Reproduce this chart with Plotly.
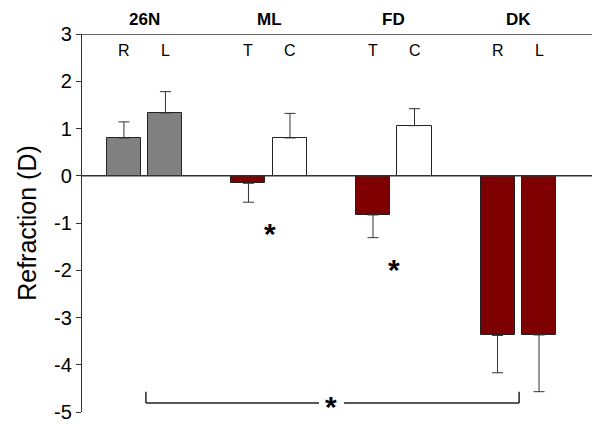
import plotly.graph_objects as go

groups = ["26N", "ML", "FD", "DK"]
sub_labels = ["R", "L", "T", "C", "T", "C", "R", "L"]
values = [0.80, 1.33, -0.16, 0.80, -0.83, 1.06, -3.38, -3.37]
errors = [0.34, 0.45, 0.40, 0.52, 0.48, 0.36, 0.79, 1.20]
colors = ["#808080", "#808080", "#7f0000", "#ffffff", "#7f0000", "#ffffff", "#7f0000", "#7f0000"]
positions = [0, 1, 3, 4, 6, 7, 9, 10]
y_ticks = [3, 2, 1, 0, -1, -2, -3, -4, -5]
y_tick_text = ["3", "2", "1", "0", "-1", "-2", "-3", "-4", "-5"]

err_plus = [e if v >= 0 else 0 for v, e in zip(values, errors)]
err_minus = [e if v < 0 else 0 for v, e in zip(values, errors)]

fig = go.Figure()
fig.add_trace(go.Bar(
    x=positions, y=values, width=0.82,
    marker=dict(color=colors, line=dict(color="#222222", width=1)),
    error_y=dict(type="data", array=err_plus, arrayminus=err_minus,
                 symmetric=False, color="#333333", thickness=1, width=5.5),
    showlegend=False,
))

font = "Liberation Sans, Arial, sans-serif"
ann = []
for i, g in enumerate(groups):
    ann.append(dict(x=(positions[2*i] + positions[2*i+1]) / 2, y=1, xref="x", yref="paper",
                    text="<b>%s</b>" % g, showarrow=False, yanchor="bottom", yshift=3,
                    font=dict(family=font, size=17, color="black")))
for p, s in zip(positions, sub_labels):
    ann.append(dict(x=p, y=2.66, xref="x", yref="y", text=s, showarrow=False,
                    font=dict(family=font, size=16, color="black")))
# significance asterisks
for x, y in [(3.52, -1.22), (6.5, -1.98), (5.0, -4.88)]:
    ann.append(dict(x=x, y=y, xref="x", yref="y", text="<b>*</b>", showarrow=False,
                    font=dict(family=font, size=30, color="black")))

shapes = [
    dict(type="line", xref="paper", yref="y", x0=0, x1=1, y0=3, y1=3,
         line=dict(color="#333333", width=1.3)),
    dict(type="line", xref="paper", yref="y", x0=0, x1=1, y0=0, y1=0,
         line=dict(color="#333333", width=1.3)),
    # bracket
    dict(type="line", xref="x", yref="y", x0=0.53, x1=4.7, y0=-4.81, y1=-4.81,
         line=dict(color="#222222", width=1.5)),
    dict(type="line", xref="x", yref="y", x0=5.3, x1=9.52, y0=-4.81, y1=-4.81,
         line=dict(color="#222222", width=1.5)),
    dict(type="line", xref="x", yref="y", x0=0.53, x1=0.53, y0=-4.81, y1=-4.57,
         line=dict(color="#222222", width=1.5)),
    dict(type="line", xref="x", yref="y", x0=9.52, x1=9.52, y0=-4.81, y1=-4.57,
         line=dict(color="#222222", width=1.5)),
]

fig.update_layout(
    width=600, height=430,
    margin=dict(l=74, r=15, t=26, b=26),
    paper_bgcolor="white", plot_bgcolor="white",
    font=dict(family=font, color="black"),
    annotations=ann, shapes=shapes,
    xaxis=dict(range=[-1.01, 11.3], visible=False, showgrid=False, zeroline=False),
    yaxis=dict(range=[-5, 3], tickvals=y_ticks, ticktext=y_tick_text, ticks="outside", ticklen=5,
               tickcolor="#333333", showline=True, linecolor="#333333", linewidth=1.3,
               showgrid=False, zeroline=False, tickfont=dict(size=20, family=font),
               automargin=False,
               title=dict(text="Refraction (D)", font=dict(size=25, family=font), standoff=10)),
    bargap=0,
)

fig.write_html("out.html")
